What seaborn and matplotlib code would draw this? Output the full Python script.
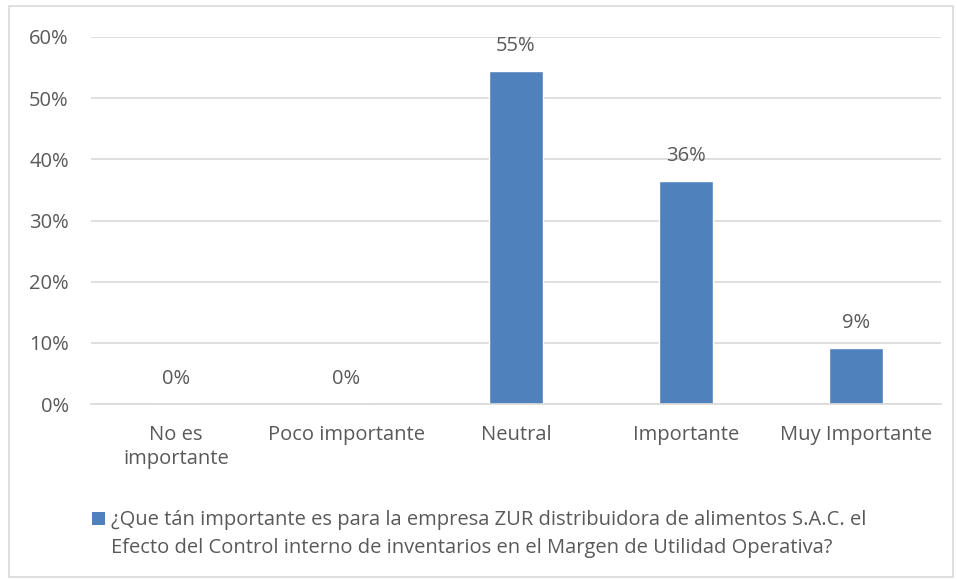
import matplotlib
matplotlib.use("Agg")
import matplotlib.pyplot as plt
import seaborn as sns
import pandas as pd
from matplotlib.patches import Rectangle
from matplotlib.ticker import FuncFormatter

categories = ["No es\nimportante", "Poco importante", "Neutral", "Importante", "Muy Importante"]
values = [0.0, 0.0, 54.5, 36.4, 9.1]
value_labels = ["0%", "0%", "55%", "36%", "9%"]
series_name = ("¿Que tán importante es para la empresa ZUR distribuidora de alimentos S.A.C. el\n"
               "Efecto del Control interno de inventarios en el Margen de Utilidad Operativa?")

sns.set_style("white")
plt.rcParams['font.family'] = ['Open Sans', 'DejaVu Sans']

TEXT = "#595959"
BAR = "#4F81BD"
GRID = "#D9D9D9"
FS = 14.5

df = pd.DataFrame({"cat": categories, "val": values})

fig = plt.figure(figsize=(9.57, 5.8), dpi=100)
ax = fig.add_axes([91/957, 1-404/580, 850/957, 367/580])

sns.barplot(data=df, x="cat", y="val", color=BAR, width=0.32, ax=ax, saturation=1)

ax.set_ylim(0, 60)
ax.set_yticks([0, 10, 20, 30, 40, 50, 60])
ax.yaxis.set_major_formatter(FuncFormatter(lambda v, p: f"{int(v)}%"))
ax.set_xlim(-0.5, 4.5)
ax.grid(axis="y", color=GRID, linewidth=1.2)
ax.set_axisbelow(True)
for s in ["top", "right", "left"]:
    ax.spines[s].set_visible(False)
ax.spines["bottom"].set_color(GRID)
ax.spines["bottom"].set_linewidth(1.2)
ax.set_xlabel("")
ax.set_ylabel("")
ax.tick_params(axis="both", length=0, labelsize=FS, labelcolor=TEXT)
ax.tick_params(axis="y", pad=16)
ax.tick_params(axis="x", pad=15)
for t in ax.get_xticklabels():
    t.set_linespacing(1.25)

for i, (v, lab) in enumerate(zip(values, value_labels)):
    ax.annotate(lab, (i, v), xytext=(0, 18), textcoords="offset points",
                ha="center", va="center", fontsize=FS, color=TEXT)

# legend
fig.patches.append(Rectangle((92/957, 1-525/580), 13/957, 13/580,
                             transform=fig.transFigure, facecolor=BAR, edgecolor="none"))
fig.text(111/957, 1-534/580, series_name, fontsize=FS, color=TEXT,
         ha="left", va="center", linespacing=1.5)

# outer border
fig.patches.append(Rectangle((9/957, 3/580), 944/957, 571/580, transform=fig.transFigure,
                             facecolor="none", edgecolor="#D9D9D9", linewidth=1.2))

fig.savefig("out.png", dpi=100)
